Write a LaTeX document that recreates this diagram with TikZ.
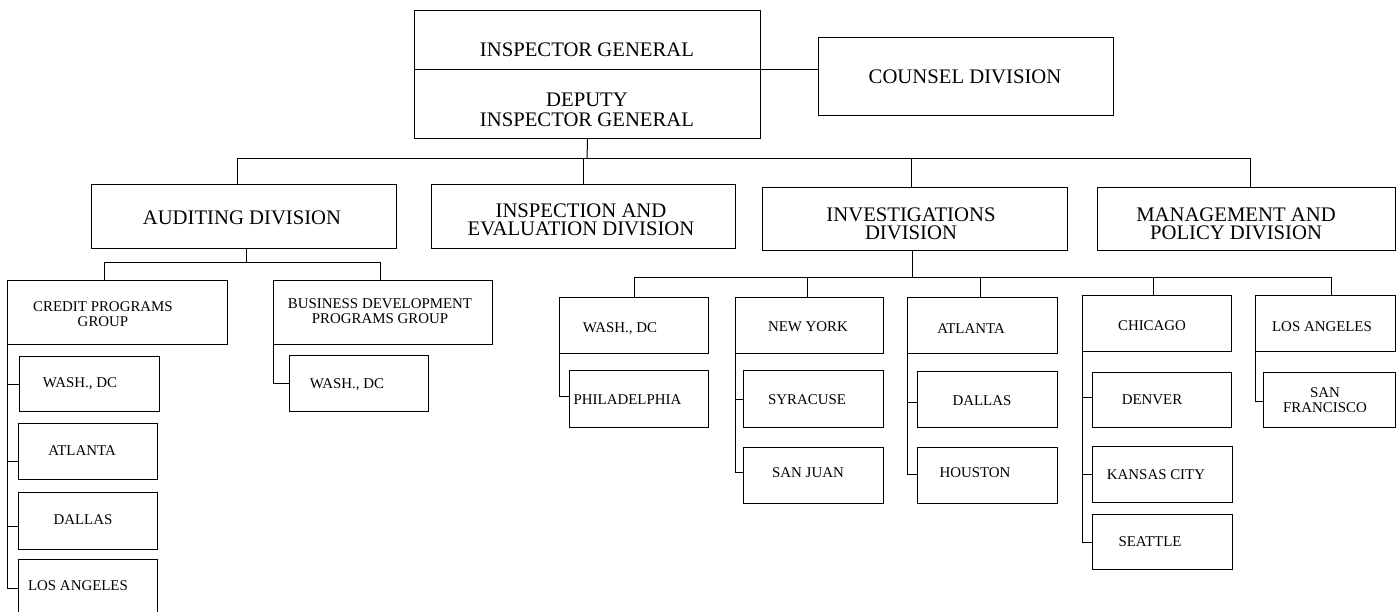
\documentclass[tikz,border=0pt]{standalone}
\usepackage{fontspec}
\setmainfont{Liberation Serif}
\begin{document}
\begin{tikzpicture}[x=1pt,y=-1pt,
  box/.style={draw=black, line width=1pt, rectangle, inner sep=0pt, anchor=north west},
  big/.style={font=\fontsize{20.7}{#1}\selectfont, align=center, inner sep=0pt},
  big/.default=18,
  small/.style={font=\fontsize{14.9}{#1}\selectfont, align=center, inner sep=0pt},
  small/.default=15,
  link/.style={draw=black, line width=1pt}]
\useasboundingbox (0,0) rectangle (1397,612);
\newcommand\obox[5]{\node[box, minimum width={#4-#2}, minimum height={#5-#3}] (#1) at (#2,#3) {};}
% top
\obox{ig}{414}{10}{760}{69}
\obox{dig}{414}{69}{760}{138}
\obox{counsel}{818}{37}{1113}{115}
\node[big] (t-ig) at (587,50) {INSPECTOR GENERAL};
\node[big=20] (t-dig) at (587,110) {DEPUTY\\INSPECTOR GENERAL};
\node[big] (t-counsel) at (965,77) {COUNSEL DIVISION};
% divisions
\obox{aud}{91}{184}{396}{248}
\obox{insp}{431}{184}{735}{248}
\obox{inv}{762}{187}{1067}{250}
\obox{mgmt}{1097}{187}{1395}{250}
\node[big] (t-aud) at (242,218) {AUDITING DIVISION};
\node[big] (t-insp) at (581,220) {INSPECTION AND\\EVALUATION DIVISION};
\node[big] (t-inv) at (911,224) {INVESTIGATIONS\\DIVISION};
\node[big] (t-mgmt) at (1236,224) {MANAGEMENT AND\\POLICY DIVISION};
% auditing subtree
\obox{credit}{7}{280}{227}{344}
\obox{bdev}{273}{280}{492}{344}
\node[small] (t-credit) at (103,314.5) {CREDIT PROGRAMS\\GROUP};
\node[small=14.5] (t-bdev) at (380,311) {BUSINESS DEVELOPMENT\\PROGRAMS GROUP};
\obox{cw}{19}{356}{159}{411}
\obox{ca}{18}{423}{157}{479}
\obox{cd}{18}{492}{157}{549}
\obox{cla}{18}{559}{157}{615}
\obox{bw}{289}{355}{428}{411}
\node[small] (t-cw) at (80,384) {WASH., DC};
\node[small] (t-ca) at (82,451) {ATLANTA};
\node[small] (t-cd) at (83,520) {DALLAS};
\node[small] (t-cla) at (78,586) {LOS ANGELES};
\node[small] (t-bw) at (347,385) {WASH., DC};
% investigations subtree
\obox{iw}{559}{297}{708}{353}
\obox{iph}{569}{370}{708}{427}
\obox{ny}{735}{297}{883}{353}
\obox{syr}{743}{370}{883}{427}
\obox{sj}{743}{447}{883}{503}
\obox{atl}{907}{297}{1057}{353}
\obox{dal}{917}{371}{1057}{427}
\obox{hou}{917}{447}{1057}{503}
\obox{chi}{1082}{295}{1231}{351}
\obox{den}{1092}{372}{1231}{427}
\obox{kc}{1092}{446}{1232}{502}
\obox{sea}{1092}{514}{1232}{569}
\obox{ila}{1255}{295}{1395}{351}
\obox{sf}{1263}{372}{1395}{427}
\node[small] (t-iw) at (620,329) {WASH., DC};
\node[small] (t-iph) at (627.5,400) {PHILADELPHIA};
\node[small] (t-ny) at (808,327) {NEW YORK};
\node[small] (t-syr) at (807,400) {SYRACUSE};
\node[small] (t-sj) at (808,473) {SAN JUAN};
\node[small] (t-atl) at (971,329) {ATLANTA};
\node[small] (t-dal) at (982,401) {DALLAS};
\node[small] (t-hou) at (975,473) {HOUSTON};
\node[small] (t-chi) at (1152,326) {CHICAGO};
\node[small] (t-den) at (1152,400) {DENVER};
\node[small] (t-kc) at (1156,475) {KANSAS CITY};
\node[small] (t-sea) at (1150,542) {SEATTLE};
\node[small] (t-ila) at (1322,327) {LOS ANGELES};
\node[small] (t-sf) at (1325,400.5) {SAN\\FRANCISCO};
% connector entry points
\coordinate (ca-in) at ([yshift=-10pt]ca.west);
\coordinate (cd-in) at ([yshift=-5.5pt]cd.west);
\coordinate (cla-in) at ([yshift=-1pt]cla.west);
\coordinate (iph-in) at ([yshift=2.5pt]iph.west);
\coordinate (sj-in) at ([yshift=3pt]sj.west);
\coordinate (hou-in) at ([yshift=1pt]hou.west);
\coordinate (dal-in) at ([yshift=-3pt]dal.west);
\coordinate (den-in) at ([yshift=2.5pt]den.west);
\coordinate (sf-in) at ([yshift=-1.5pt]sf.west);
% connectors: top
\path[link] (ig.south east) -- (ig.south east -| counsel.west);
\coordinate (bus) at (587,159);
\path[link] (dig.south) -- (bus);
\path[link] ([xshift=-7pt]aud.north) -- ([xshift=-7pt]aud.north |- bus) -- ([xshift=4pt]mgmt.north |- bus) -- ([xshift=4pt]mgmt.north);
\path[link] (insp.north) -- (insp.north |- bus);
\path[link] ([xshift=-4pt]inv.north) -- ([xshift=-4pt]inv.north |- bus);
% auditing connectors
\coordinate (abus) at (245,263);
\path[link] ([xshift=2pt]aud.south) -- ([xshift=2pt]aud.south |- abus);
\path[link] ([xshift=-13pt]credit.north) -- ([xshift=-13pt]credit.north |- abus) -- ([xshift=-3pt]bdev.north |- abus) -- ([xshift=-3pt]bdev.north);
\path[link] (credit.south west) |- (cla-in);
\path[link] (credit.south west |- cw.west) -- (cw.west);
\path[link] (credit.south west |- ca-in) -- (ca-in);
\path[link] (credit.south west |- cd-in) -- (cd-in);
\path[link] (bdev.south west) |- (bw.west);
% investigations connectors
\coordinate (ibus) at (912,278);
\path[link] ([xshift=-2.5pt]inv.south) -- ([xshift=-2.5pt]inv.south |- ibus);
\path[link] (iw.north) -- (iw.north |- ibus) -- ([xshift=6pt]ila.north |- ibus) -- ([xshift=6pt]ila.north);
\path[link] ([xshift=-2pt]ny.north) -- ([xshift=-2pt]ny.north |- ibus);
\path[link] ([xshift=-2pt]atl.north) -- ([xshift=-2pt]atl.north |- ibus);
\path[link] ([xshift=-3.5pt]chi.north) -- ([xshift=-3.5pt]chi.north |- ibus);
\path[link] (iw.south west) |- (iph-in);
\path[link] (ny.south west) |- (sj-in);
\path[link] (ny.south west |- syr.west) -- (syr.west);
\path[link] (atl.south west) |- (hou-in);
\path[link] (atl.south west |- dal-in) -- (dal-in);
\path[link] (chi.south west) |- (sea.west);
\path[link] (chi.south west |- den-in) -- (den-in);
\path[link] (chi.south west |- kc.west) -- (kc.west);
\path[link] (ila.south west) |- (sf-in);
\end{tikzpicture}
\end{document}
